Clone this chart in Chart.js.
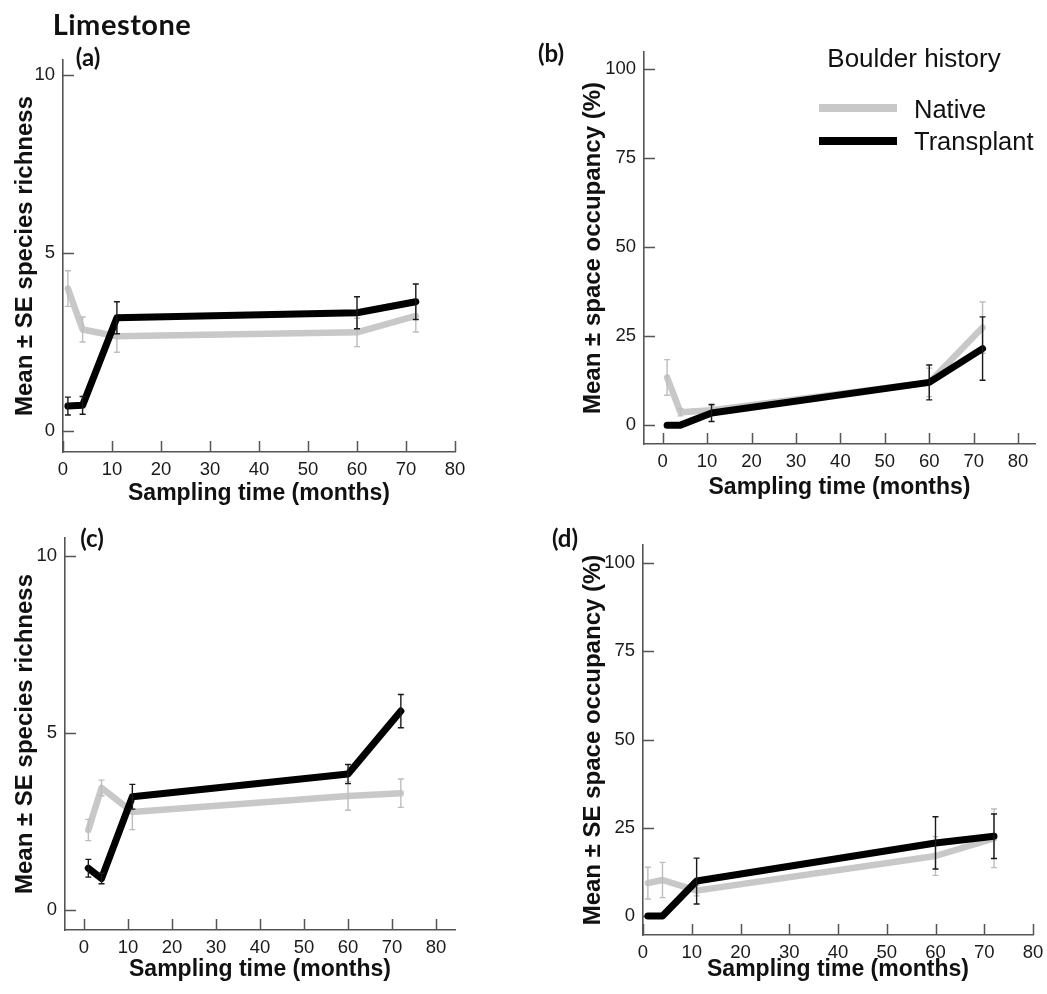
<!DOCTYPE html>
<html>
<head>
<meta charset="utf-8">
<script src="https://cdn.jsdelivr.net/npm/chart.js@4.4.1/dist/chart.umd.min.js"></script>
<style>
    body { margin: 0; background: #fff; }
    #page { position: relative; width: 1047px; height: 994px; overflow: hidden; font-family: "Liberation Sans", Arial, sans-serif; }
    #page canvas { position: absolute; left: 0; top: 0; }
    .txt { position: absolute; white-space: nowrap; line-height: 1; color: #111; }
    .cal { font-family: Lato, "Open Sans", sans-serif; font-weight: bold; }
    .swatch { position: absolute; height: 8px; }
</style>
</head>
<body>
<div id="page">
    <canvas id="chartA" width="1047" height="994"></canvas>
    <canvas id="chartB" width="1047" height="994"></canvas>
    <canvas id="chartC" width="1047" height="994"></canvas>
    <canvas id="chartD" width="1047" height="994"></canvas>

    <div class="txt cal" style="left:122px;top:23px;font-size:29px;letter-spacing:0.5px;transform:translate(-50%,-50%)">Limestone</div>
    <div class="txt cal" style="left:88px;top:57px;font-size:24px;transform:translate(-50%,-50%)">(a)</div>
    <div class="txt cal" style="left:551px;top:53px;font-size:24px;transform:translate(-50%,-50%)">(b)</div>
    <div class="txt cal" style="left:92px;top:538px;font-size:24px;transform:translate(-50%,-50%)">(c)</div>
    <div class="txt cal" style="left:565px;top:538px;font-size:24px;transform:translate(-50%,-50%)">(d)</div>

    <div id="legend"></div>
</div>

<script>
// Sampling times (months) and tick labels
const months = [1, 4, 11, 60, 72];
const xTicks = [0, 10, 20, 30, 40, 50, 60, 70, 80];
const richnessTicks = [0, 5, 10];
const occupancyTicks = [0, 25, 50, 75, 100];

// (a) species richness
const aNative = [4.0, 2.85, 2.66, 2.77, 3.23];
const aNativeSE = [0.5, 0.35, 0.45, 0.4, 0.45];
const aTransplant = [0.7, 0.72, 3.18, 3.32, 3.63];
const aTransplantSE = [0.25, 0.25, 0.45, 0.45, 0.5];

// (b) space occupancy
const bNative = [13.4, 3.6, 4.2, 12.0, 27.4];
const bNativeSE = [5.0, 1.0, 1.2, 4.0, 7.2];
const bTransplant = [0, 0, 3.4, 12.0, 21.5];
const bTransplantSE = [0, 0, 2.4, 4.9, 8.9];

// (c) species richness
const cNative = [2.26, 3.45, 2.77, 3.22, 3.3];
const cNativeSE = [0.3, 0.22, 0.5, 0.4, 0.4];
const cTransplant = [1.18, 0.89, 3.2, 3.84, 5.62];
const cTransplantSE = [0.25, 0.15, 0.35, 0.27, 0.47];

// (d) space occupancy
const dNative = [9.3, 10.2, 7.2, 17.0, 22.0];
const dNativeSE = [4.5, 5.0, 1.5, 5.5, 8.3];
const dTransplant = [0, 0, 9.9, 20.7, 22.6];
const dTransplantSE = [0, 0, 6.5, 7.4, 6.3];

const seriesStyle = {
    Native: { line: "#c8c8c8", err: "#bdbdbd", width: 6.5 },
    Transplant: { line: "#000000", err: "#1a1a1a", width: 7 }
};

const PAGE_W = 1047, PAGE_H = 994;
const AXIS_COLOR = "#555";
const TICK_FONT = { family: "'Liberation Sans', Arial, sans-serif", size: 18.5 };
const TITLE_FONT = { family: "'Liberation Sans', Arial, sans-serif", size: 23, weight: "bold" };
const YTITLE_FONT = { family: "'Liberation Sans', Arial, sans-serif", size: 24, weight: "bold" };
const LH = 1.2;

// error bars drawn right after each dataset so the layering follows the lines
const errorBars = {
    id: "errorBars",
    afterDatasetDraw(chart, args) {
        const ds = chart.data.datasets[args.index];
        if (!ds.se) return;
        const { x, y } = chart.scales;
        const ctx = chart.ctx;
        ctx.save();
        ctx.strokeStyle = ds.errColor;
        ctx.lineWidth = 1.4;
        ds.data.forEach((p, i) => {
            const se = ds.se[i];
            if (!se) return;
            const px = x.getPixelForValue(p.x);
            const top = y.getPixelForValue(p.y + se);
            const bot = y.getPixelForValue(p.y - se);
            ctx.beginPath();
            ctx.moveTo(px, top); ctx.lineTo(px, bot);
            ctx.moveTo(px - 3, top); ctx.lineTo(px + 3, top);
            ctx.moveTo(px - 3, bot); ctx.lineTo(px + 3, bot);
            ctx.stroke();
        });
        ctx.restore();
    }
};

// tick marks pointing into the plot area
const innerTicks = {
    id: "innerTicks",
    beforeDatasetsDraw(chart) {
        const { x, y } = chart.scales;
        const area = chart.chartArea;
        const ctx = chart.ctx;
        ctx.save();
        ctx.strokeStyle = AXIS_COLOR;
        ctx.lineWidth = 1.5;
        ctx.beginPath();
        y.ticks.forEach(t => {
            const py = Math.round(y.getPixelForValue(t.value)) + 0.5;
            ctx.moveTo(area.left, py); ctx.lineTo(area.left + 11, py);
        });
        x.ticks.forEach(t => {
            const px = Math.round(x.getPixelForValue(t.value)) + 0.5;
            ctx.moveTo(px, area.bottom); ctx.lineTo(px, area.bottom - 11);
        });
        ctx.stroke();
        ctx.restore();
    }
};

function makeSeries(label, values, se, order) {
    const st = seriesStyle[label];
    return {
        label: label,
        data: months.map((m, i) => ({ x: m, y: values[i] })),
        se: se,
        errColor: st.err,
        borderColor: st.line,
        backgroundColor: st.line,
        borderWidth: st.width,
        borderJoinStyle: "round",
        borderCapStyle: "round",
        pointRadius: 0,
        tension: 0,
        order: order
    };
}

// box = plot area in page pixels, yTitleX / xTitleY = centres of the axis titles
function makePanel(id, box, xRange, yRange, yTicks, yTitle, nat, natSE, tr, trSE) {
    const wy = box.L - (box.yTitleX - YTITLE_FONT.size * LH / 2);
    const hx = (box.xTitleY + TITLE_FONT.size * LH / 2) - box.B;
    new Chart(document.getElementById(id), {
        type: "line",
        data: {
            datasets: [
                makeSeries("Native", nat, natSE, 2),
                makeSeries("Transplant", tr, trSE, 1)
            ]
        },
        options: {
            responsive: false,
            animation: false,
            devicePixelRatio: 1,
            layout: {
                padding: { left: box.L - wy, top: box.T, right: PAGE_W - box.R, bottom: PAGE_H - box.B - hx }
            },
            plugins: { legend: { display: false }, tooltip: { enabled: false } },
            scales: {
                x: {
                    type: "linear",
                    min: xRange[0], max: xRange[1],
                    grid: { display: false, drawTicks: false },
                    border: { display: true, color: AXIS_COLOR, width: 1.6 },
                    afterBuildTicks: s => { s.ticks = xTicks.map(v => ({ value: v })); },
                    afterFit: s => { s.height = hx; s.paddingLeft = 0; s.paddingRight = 0; },
                    ticks: { font: TICK_FONT, color: "#1a1a1a", padding: box.xPad, maxRotation: 0, autoSkip: false },
                    title: { display: true, text: "Sampling time (months)", font: TITLE_FONT, color: "#111", padding: 0 }
                },
                y: {
                    min: yRange[0], max: yRange[1],
                    grid: { display: false, drawTicks: false },
                    border: { display: true, color: AXIS_COLOR, width: 1.6 },
                    afterBuildTicks: s => { s.ticks = yTicks.map(v => ({ value: v })); },
                    afterFit: s => { s.width = wy; s.paddingTop = 0; s.paddingBottom = 0; },
                    ticks: { font: TICK_FONT, color: "#1a1a1a", padding: 8 },
                    title: { display: true, text: yTitle, font: YTITLE_FONT, color: "#111", padding: 0 }
                }
            }
        },
        plugins: [innerTicks, errorBars]
    });
}

makePanel("chartA", { L: 63, T: 60, R: 455, B: 452, yTitleX: 25, xTitleY: 494, xPad: 7 },
    [0, 80], [-0.59, 10.42], richnessTicks, "Mean \u00b1 SE species richness",
    aNative, aNativeSE, aTransplant, aTransplantSE);

makePanel("chartB", { L: 644, T: 52, R: 1035, B: 444, yTitleX: 593, xTitleY: 488, xPad: 7 },
    [-4.2, 83.8], [-5.3, 104.8], occupancyTicks, "Mean \u00b1 space occupancy (%)",
    bNative, bNativeSE, bTransplant, bTransplantSE);

makePanel("chartC", { L: 65, T: 538, R: 455, B: 930, yTitleX: 25, xTitleY: 970, xPad: 7 },
    [-4.3, 84.3], [-0.565, 10.51], richnessTicks, "Mean \u00b1 SE species richness",
    cNative, cNativeSE, cTransplant, cTransplantSE);

makePanel("chartD", { L: 643, T: 545, R: 1033, B: 935, yTitleX: 593, xTitleY: 970, xPad: 7 },
    [0, 80], [-5.38, 105.1], occupancyTicks, "Mean \u00b1 SE space occupancy (%)",
    dNative, dNativeSE, dTransplant, dTransplantSE);

// legend of panel (b)
const legend = document.getElementById("legend");
legend.innerHTML =
    '<div class="txt" style="left:914px;top:58px;font-size:26px;transform:translate(-50%,-50%)">Boulder history</div>';
[["Native", 108, 110], ["Transplant", 141, 142]].forEach(([name, ly, ty]) => {
    legend.innerHTML +=
        `<div class="swatch" style="left:819px;top:${ly - 4}px;width:78px;background:${seriesStyle[name].line}"></div>` +
        `<div class="txt" style="left:914px;top:${ty}px;font-size:25.5px;transform:translateY(-50%)">${name}</div>`;
});
</script>
</body>
</html>
